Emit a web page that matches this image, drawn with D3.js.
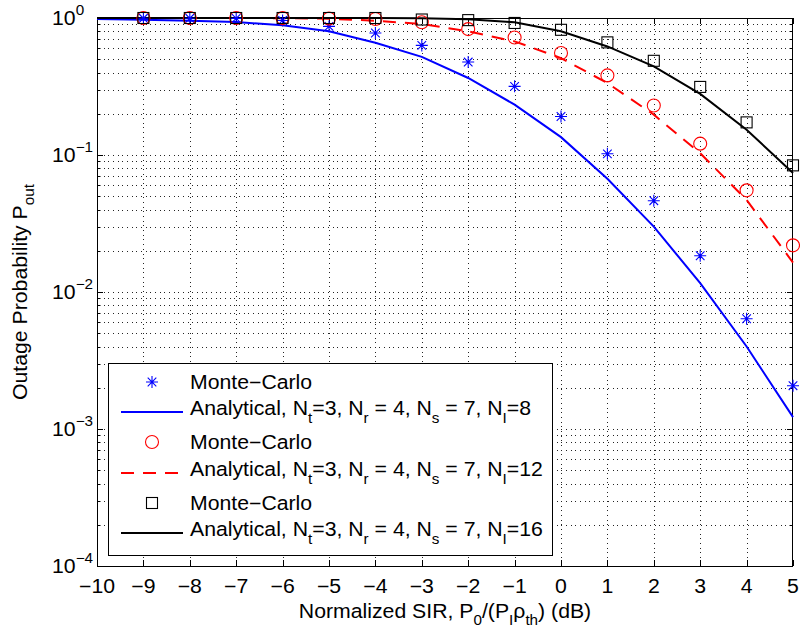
<!DOCTYPE html>
<html><head><meta charset="utf-8">
<script src="https://cdn.jsdelivr.net/npm/d3@7"></script>
<style>
body{margin:0;background:#fff}
text{font-family:"Liberation Sans",Arial,Helvetica,sans-serif;fill:#000}
</style>
</head><body>
<svg id="chart" width="800" height="634"></svg>
<script>
// Normalized SIR in dB
const sirLine = [-10,-9,-8,-7,-6,-5,-4,-3,-2,-1,0,1,2,3,4,5];
const sirMC   = [-9,-8,-7,-6,-5,-4,-3,-2,-1,0,1,2,3,4,5];

// Outage probability, N_I = 8
const analytic8 = [0.985,0.97,0.955,0.935,0.885,0.80,0.66,0.52,0.365,0.233,0.135,0.067,0.030,0.0116,0.0040,0.00122];
const mc8       = [0.995,0.995,0.993,0.96,0.868,0.777,0.631,0.477,0.317,0.191,0.102,0.0464,0.0184,0.00638,0.00207];
// N_I = 12
const analytic12 = [1,1,1,1,0.997,0.988,0.955,0.904,0.80,0.675,0.51,0.335,0.197,0.103,0.047,0.0164];
const mc12       = [0.999,0.999,0.999,0.998,0.99,0.983,0.93,0.83,0.72,0.555,0.381,0.23,0.121,0.0552,0.0219];
// N_I = 16
const analytic16 = [1,1,1,1,1,1,0.999,0.995,0.98,0.93,0.80,0.62,0.443,0.279,0.153,0.074];
const mc16       = [1,1,1,1,1,1,0.975,0.965,0.92,0.82,0.664,0.487,0.314,0.173,0.084];

const xTicks = [-10,-9,-8,-7,-6,-5,-4,-3,-2,-1,0,1,2,3,4,5];
const yDecades = [-4,-3,-2,-1,0];

const L = 97, R = 793, T = 18, B = 566;
const FS = 19.5, SUB = 14, SX = 1.09;   // font size, sub/superscript size, horizontal text stretch

const svg = d3.select("#chart");
const x = d3.scaleLinear().domain([-10,5]).range([L,R]);
const y = d3.scaleLog().domain([1e-4,1]).range([B,T]);
const px = v => Math.round(v) + 0.5;

// text placed at (tx,ty) with a slight horizontal stretch
function label(parent, tx, ty, anchor, rotate) {
  const g = parent.append("g")
    .attr("transform", `translate(${tx},${ty})` + (rotate ? ` rotate(${rotate})` : "") + ` scale(${SX},1)`);
  return g.append("text").attr("text-anchor", anchor).attr("font-size", FS);
}
// append runs of [text, offset] where offset is the baseline shift (+ down, - up)
function runs(t, parts) {
  let cur = 0;
  parts.forEach(([txt, off]) => {
    const sp = t.append("tspan").attr("dy", off - cur).text(txt);
    if (off !== 0) sp.attr("font-size", SUB);
    cur = off;
  });
}

// dotted grid
const grid = svg.append("g").attr("stroke","#000").attr("stroke-width",1)
  .attr("stroke-dasharray","1,3.67").attr("opacity",0.85).attr("fill","none")
  .attr("shape-rendering","crispEdges");
xTicks.filter(t => t > -10 && t < 5).forEach(t => {
  grid.append("line").attr("x1",px(x(t))).attr("x2",px(x(t))).attr("y1",T+2).attr("y2",B);
});
const minorVals = [];
for (let d = -4; d < 0; d++) for (let k = 1; k <= 9; k++) minorVals.push(k*Math.pow(10,d));
minorVals.filter(v => v > 1e-4 && v < 1).forEach(v => {
  grid.append("line").attr("x1",L+2).attr("x2",R).attr("y1",px(y(v))).attr("y2",px(y(v)));
});

// ticks on all four sides, pointing inward
const ticks = svg.append("g").attr("stroke","#000").attr("stroke-width",1);
xTicks.forEach(t => {
  const xx = px(x(t));
  ticks.append("line").attr("x1",xx).attr("x2",xx).attr("y1",B).attr("y2",B-6);
  ticks.append("line").attr("x1",xx).attr("x2",xx).attr("y1",T).attr("y2",T+6);
});
minorVals.concat([1]).forEach(v => {
  const yy = px(y(v));
  const major = Math.abs(Math.log10(v) - Math.round(Math.log10(v))) < 1e-9;
  const len = major ? 6 : 3.5;
  ticks.append("line").attr("x1",L).attr("x2",L+len).attr("y1",yy).attr("y2",yy);
  ticks.append("line").attr("x1",R).attr("x2",R-len).attr("y1",yy).attr("y2",yy);
});

// axes box
svg.append("rect").attr("x",L+0.5).attr("y",T+0.5).attr("width",R-L-1).attr("height",B-T)
  .attr("fill","none").attr("stroke","#000").attr("stroke-width",1);

// tick labels
xTicks.forEach(t => {
  label(svg, x(t), B+27, "middle").text(t < 0 ? "\u2212" + Math.abs(t) : String(t));
});
yDecades.forEach(d => {
  const t = label(svg, 52, y(Math.pow(10,d)) + 7, "start");
  runs(t, [["10",0],[d < 0 ? "\u2212" + Math.abs(d) : String(d), -10]]);
});

// axis titles
runs(label(svg, (L+R)/2, 618, "middle"),
  [["Normalized SIR, P",0],["0",7],["/(P",0],["I",7],["\u03C1",0],["th",7],[") (dB)",0]]);
runs(label(svg, 27, (T+B)/2, "middle", -90),
  [["Outage Probability P",0],["out",7]]);

// series
const series = [
  {line: analytic8,  mc: mc8,  color:"#0000ff", dash:null,   marker:"star",   nI:"8"},
  {line: analytic12, mc: mc12, color:"#ff0000", dash:"13,9", marker:"circle", nI:"12"},
  {line: analytic16, mc: mc16, color:"#000000", dash:null,   marker:"square", nI:"16"}
];

const lineGen = d3.line().x(d => x(d[0])).y(d => y(d[1]));

function drawMarker(g, type, cx, cy, color) {
  if (type === "star") {
    const s = 6, d = 4.3;
    const p = `M${cx-s},${cy}L${cx+s},${cy}M${cx},${cy-s}L${cx},${cy+s}` +
              `M${cx-d},${cy-d}L${cx+d},${cy+d}M${cx-d},${cy+d}L${cx+d},${cy-d}`;
    g.append("path").attr("d",p).attr("stroke",color).attr("stroke-width",1.1).attr("fill","none");
  } else if (type === "circle") {
    g.append("circle").attr("cx",cx).attr("cy",cy).attr("r",6.5)
      .attr("stroke",color).attr("stroke-width",1.1).attr("fill","none");
  } else {
    g.append("rect").attr("x",cx-5.5).attr("y",cy-5.5).attr("width",11).attr("height",11)
      .attr("stroke",color).attr("stroke-width",1.1).attr("fill","none");
  }
}

series.forEach(s => {
  svg.append("path").datum(sirLine.map((v,i) => [v, s.line[i]]))
    .attr("d",lineGen).attr("fill","none").attr("stroke",s.color).attr("stroke-width",2)
    .attr("stroke-dasharray",s.dash);
});
series.forEach(s => {
  const g = svg.append("g");
  sirMC.forEach((v,i) => drawMarker(g, s.marker, x(v), y(s.mc[i]), s.color));
});

// legend
const lg = svg.append("g");
lg.append("rect").attr("x",108.5).attr("y",363.5).attr("width",444).attr("height",192)
  .attr("fill","#fff").attr("stroke","#000").attr("stroke-width",1);
const rowY = [382, 412, 442, 473, 503, 533];
series.forEach((s,i) => {
  const ym = rowY[2*i], yline = rowY[2*i+1];
  drawMarker(lg, s.marker, 152, ym, s.color);
  label(lg, 190, ym+7, "start").text("Monte\u2212Carlo");
  lg.append("line").attr("x1",121).attr("x2",183).attr("y1",yline).attr("y2",yline)
    .attr("stroke",s.color).attr("stroke-width",2).attr("stroke-dasharray",s.dash);
  runs(label(lg, 190, yline+3, "start"),
    [["Analytical, N",0],["t",8],["=3, N",0],["r",8],[" = 4, N",0],["s",8],[" = 7, N",0],["I",8],["="+s.nI,0]]);
});
</script>
</body></html>
